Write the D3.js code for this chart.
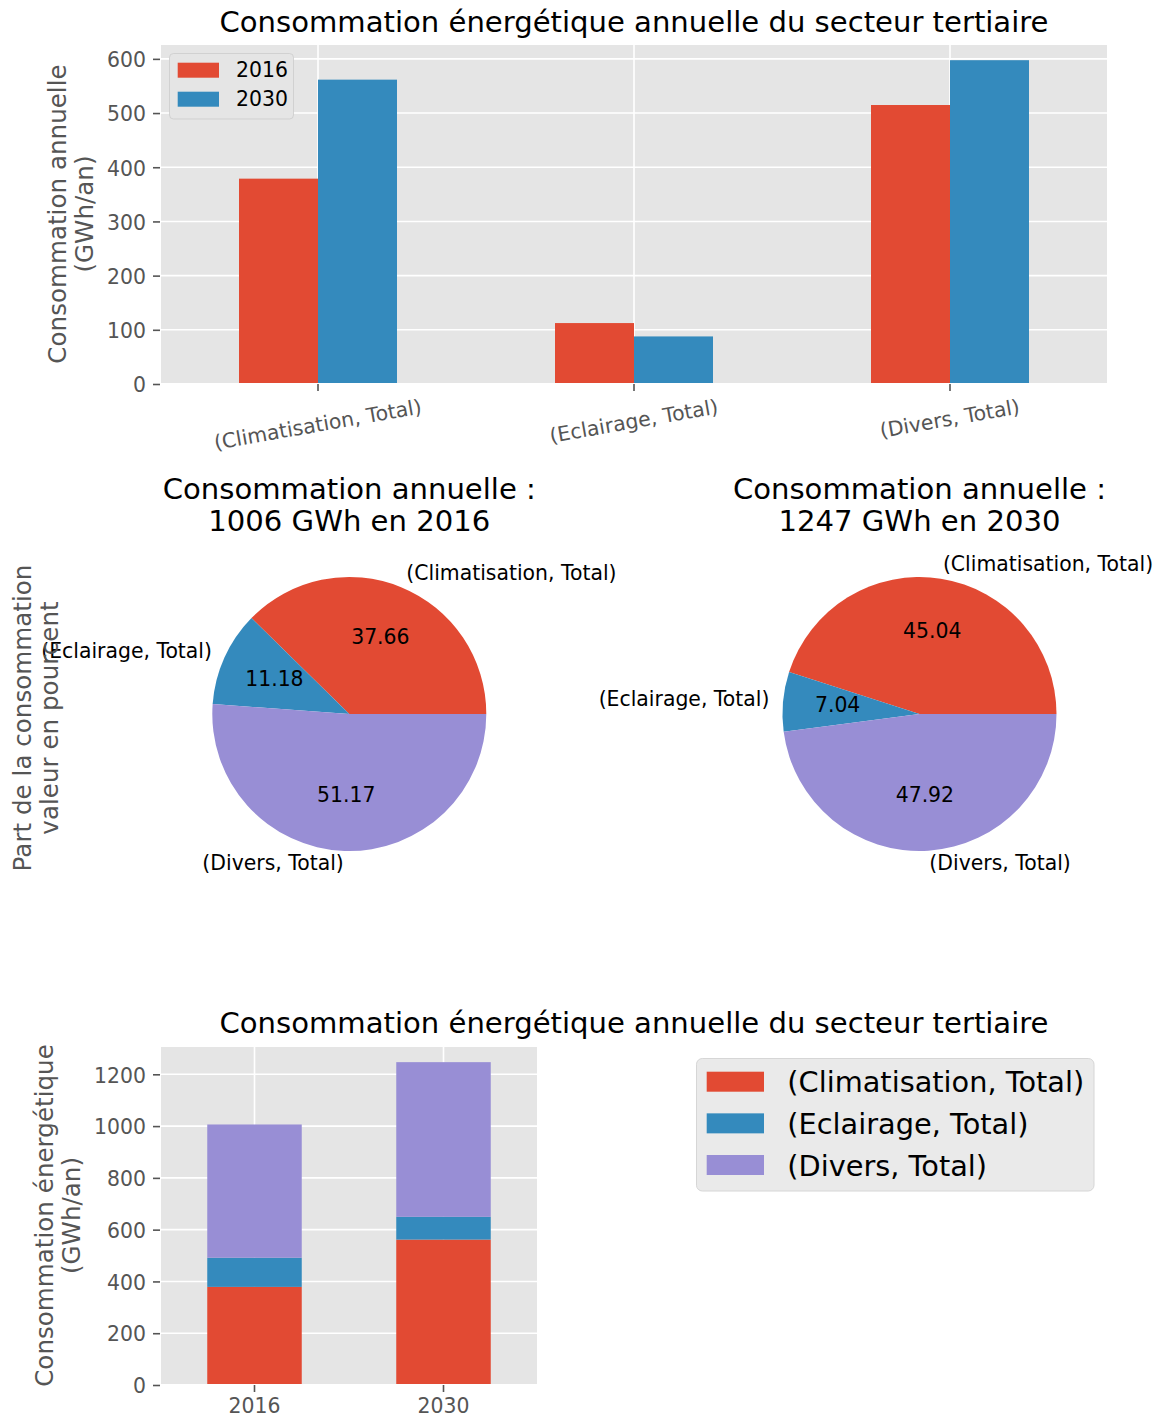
<!DOCTYPE html>
<html>
<head>
<meta charset="utf-8">
<script src="https://cdn.jsdelivr.net/npm/d3@7"></script>
<style>
  body { margin: 0; background: #ffffff; }
  svg { display: block; }
  text { font-family: "DejaVu Sans", sans-serif; }
</style>
</head>
<body>
<svg id="chart" width="1163" height="1418"></svg>
<script>
// ---------------- data ----------------
const categories = ["(Climatisation, Total)", "(Eclairage, Total)", "(Divers, Total)"];
const years = ["2016", "2030"];
const conso2016 = [378.95, 112.45, 514.85];
const conso2030 = [561.65, 87.79, 597.56];
const barTicks = [0, 100, 200, 300, 400, 500, 600];
const stackTicks = [0, 200, 400, 600, 800, 1000, 1200];
const mainTitle = "Consommation énergétique annuelle du secteur tertiaire";
const barYLabel = ["Consommation annuelle", "(GWh/an)"];
const pieYLabel = ["Part de la consommation", "valeur en pourcent"];
const stackYLabel = ["Consommation énergétique", "(GWh/an)"];
const pieTitleStart = "Consommation annuelle :";

// ---------------- style ----------------
const colors = ["#E24A33", "#348ABD", "#988ED5"];
const BG = "#E5E5E5", GREY = "#555555";
const TICK = 20.4, LABEL = 24.6, TITLE = 29.1, LEG = 28.8;
const svg = d3.select("#chart");
svg.append("rect").attr("width", 1163).attr("height", 1418).attr("fill", "#fff");

function styleYAxis(g) {
  g.select(".domain").remove();
  g.selectAll(".tick line").attr("stroke", GREY).attr("stroke-width", 1.6);
  g.selectAll(".tick text").attr("fill", GREY).attr("font-size", TICK)
    .attr("font-family", "DejaVu Sans").attr("dy", "0.38em");
}
function yLabel(x, y, lines, size) {
  const t = svg.append("text").attr("transform", `translate(${x},${y}) rotate(-90)`)
    .attr("text-anchor", "middle").attr("fill", GREY).attr("font-size", size);
  lines.forEach((l, i) => t.append("tspan").attr("x", 0).attr("y", i * 1.1 * size).text(l));
}
function title(x, y, lines) {
  const t = svg.append("text").attr("text-anchor", "middle").attr("fill", "#000").attr("font-size", TITLE);
  lines.forEach((l, i) => t.append("tspan").attr("x", x).attr("y", y + i * 32.4).text(l));
}

// ---------------- top grouped bar chart ----------------
{
  const b = { l: 160, r: 1108, t: 44, b: 384 };
  const x = d3.scaleLinear().domain([-0.5, categories.length - 0.5]).range([b.l, b.r]);
  const y = d3.scaleLinear().domain([0, d3.max(conso2016.concat(conso2030)) * 1.05]).range([b.b, b.t]);
  const g = svg.append("g");
  g.append("rect").attr("x", b.l).attr("y", b.t).attr("width", b.r - b.l).attr("height", b.b - b.t).attr("fill", BG);
  g.selectAll(".gy").data(barTicks).join("line").attr("x1", b.l).attr("x2", b.r)
    .attr("y1", d => y(d)).attr("y2", d => y(d)).attr("stroke", "#fff").attr("stroke-width", 1.6);
  g.selectAll(".gx").data(d3.range(categories.length)).join("line").attr("y1", b.t).attr("y2", b.b)
    .attr("x1", d => x(d)).attr("x2", d => x(d)).attr("stroke", "#fff").attr("stroke-width", 1.6);
  [conso2016, conso2030].forEach((vals, s) => {
    g.append("g").selectAll("rect").data(vals).join("rect")
      .attr("x", (d, i) => x(i - 0.25 + s * 0.25))
      .attr("width", x(0.25) - x(0))
      .attr("y", d => y(d)).attr("height", d => y(0) - y(d))
      .attr("fill", colors[s]);
  });
  g.append("rect").attr("x", b.l).attr("y", b.t).attr("width", b.r - b.l).attr("height", b.b - b.t)
    .attr("fill", "none").attr("stroke", "#fff").attr("stroke-width", 2);
  const ay = svg.append("g").attr("transform", `translate(${b.l},0)`)
    .call(d3.axisLeft(y).tickValues(barTicks).tickSize(7).tickPadding(7).tickFormat(d3.format("d")));
  styleYAxis(ay);
  // x ticks & rotated labels
  const a = 10 * Math.PI / 180;
  categories.forEach((c, i) => {
    svg.append("line").attr("x1", x(i)).attr("x2", x(i)).attr("y1", b.b).attr("y2", b.b + 7)
      .attr("stroke", GREY).attr("stroke-width", 1.6);
    const t = svg.append("text").text(c).attr("font-size", TICK).attr("fill", GREY).attr("text-anchor", "middle");
    const w = t.node().getComputedTextLength();
    const hh = 0.968 * TICK;
    const cy = b.b + 14 + (w * Math.sin(a) + hh * Math.cos(a)) / 2;
    t.attr("transform", `translate(${x(i)},${cy}) rotate(-10)`).attr("y", 0.276 * TICK);
  });
  // legend
  const lg = svg.append("g");
  lg.append("rect").attr("x", 169.5).attr("y", 53.5).attr("width", 124).attr("height", 65.5).attr("rx", 4)
    .attr("fill", BG).attr("stroke", "#CCCCCC").attr("stroke-opacity", 0.8).attr("stroke-width", 1);
  years.forEach((yr, s) => {
    const cy = 70.2 + s * 29;
    lg.append("rect").attr("x", 177.7).attr("y", cy - 7.5).attr("width", 41.3).attr("height", 15).attr("fill", colors[s]);
    lg.append("text").attr("x", 236).attr("y", cy + 6.6).attr("font-size", TICK).attr("fill", "#000").text(yr);
  });
  title((b.l + b.r) / 2, 31.7, [mainTitle]);
  yLabel(66, (b.t + b.b) / 2, barYLabel, LABEL);
}

// ---------------- pies ----------------
function drawPie(cx, cy, vals, year) {
  const r = 137;
  const total = d3.sum(vals);
  const pie = d3.pie().sort(null).value(d => d).startAngle(Math.PI / 2).endAngle(Math.PI / 2 - 2 * Math.PI);
  const arcs = pie(vals);
  const arc = d3.arc().innerRadius(0).outerRadius(r);
  const g = svg.append("g").attr("transform", `translate(${cx},${cy})`);
  g.selectAll("path").data(arcs).join("path").attr("d", arc).attr("fill", (d, i) => colors[i]);
  arcs.forEach((d, i) => {
    const m = (d.startAngle + d.endAngle) / 2;
    const lx = Math.sin(m) * 1.1 * r, ly = -Math.cos(m) * 1.1 * r;
    g.append("text").attr("x", lx).attr("y", ly + 0.276 * TICK)
      .attr("text-anchor", lx > 0 ? "start" : "end").attr("font-size", TICK).attr("fill", "#000")
      .text(categories[i]);
    const px = Math.sin(m) * 0.6 * r, py = -Math.cos(m) * 0.6 * r;
    g.append("text").attr("x", px).attr("y", py + 0.276 * TICK)
      .attr("text-anchor", "middle").attr("font-size", TICK).attr("fill", "#000")
      .text(d3.format(".2f")(d.data / total * 100));
  });
  title(cx, 499, [pieTitleStart, `${Math.round(total)} GWh en ${year}`]);
}
drawPie(349.3, 714, conso2016, years[0]);
drawPie(919.5, 714, conso2030, years[1]);
yLabel(31, 718, pieYLabel, LABEL);

// ---------------- bottom stacked bar chart ----------------
{
  const s = { l: 160, r: 538, t: 1046, b: 1385 };
  const rows = years.map((yr, j) => {
    const o = { year: yr };
    categories.forEach((c, i) => { o[c] = (j === 0 ? conso2016 : conso2030)[i]; });
    return o;
  });
  const stacked = d3.stack().keys(categories)(rows);
  const totals = rows.map(r => d3.sum(categories, c => r[c]));
  const x = d3.scaleLinear().domain([-0.5, years.length - 0.5]).range([s.l, s.r]);
  const y = d3.scaleLinear().domain([0, d3.max(totals) * 1.05]).range([s.b, s.t]);
  const g = svg.append("g");
  g.append("rect").attr("x", s.l).attr("y", s.t).attr("width", s.r - s.l).attr("height", s.b - s.t).attr("fill", BG);
  g.selectAll(".gy").data(stackTicks).join("line").attr("x1", s.l).attr("x2", s.r)
    .attr("y1", d => y(d)).attr("y2", d => y(d)).attr("stroke", "#fff").attr("stroke-width", 1.6);
  g.selectAll(".gx").data(d3.range(years.length)).join("line").attr("y1", s.t).attr("y2", s.b)
    .attr("x1", d => x(d)).attr("x2", d => x(d)).attr("stroke", "#fff").attr("stroke-width", 1.6);
  stacked.forEach((layer, k) => {
    g.append("g").selectAll("rect").data(layer).join("rect")
      .attr("x", (d, j) => x(j - 0.25)).attr("width", x(0.25) - x(-0.25))
      .attr("y", d => y(d[1])).attr("height", d => y(d[0]) - y(d[1]))
      .attr("fill", colors[k]);
  });
  g.append("rect").attr("x", s.l).attr("y", s.t).attr("width", s.r - s.l).attr("height", s.b - s.t)
    .attr("fill", "none").attr("stroke", "#fff").attr("stroke-width", 2);
  const ay = svg.append("g").attr("transform", `translate(${s.l},0)`)
    .call(d3.axisLeft(y).tickValues(stackTicks).tickSize(7).tickPadding(7).tickFormat(d3.format("d")));
  styleYAxis(ay);
  years.forEach((yr, j) => {
    svg.append("line").attr("x1", x(j)).attr("x2", x(j)).attr("y1", s.b).attr("y2", s.b + 7)
      .attr("stroke", GREY).attr("stroke-width", 1.6);
    svg.append("text").attr("x", x(j)).attr("y", 1413).attr("text-anchor", "middle")
      .attr("font-size", TICK).attr("fill", GREY).text(yr);
  });
  title(634, 1033, [mainTitle]);
  yLabel(53.3, (s.t + s.b) / 2, stackYLabel, LABEL);
  // legend
  const lg = svg.append("g");
  lg.append("rect").attr("x", 696.5).attr("y", 1058.5).attr("width", 397.5).attr("height", 132.5).attr("rx", 5.8)
    .attr("fill", "#EAEAEA").attr("stroke", "#D6D6D6").attr("stroke-width", 1);
  categories.forEach((c, k) => {
    const cy = 1081.7 + k * 41.65;
    lg.append("rect").attr("x", 706.7).attr("y", cy - 10).attr("width", 57.3).attr("height", 20).attr("fill", colors[k]);
    lg.append("text").attr("x", 787.3).attr("y", cy + 10.6).attr("font-size", LEG).attr("fill", "#000").text(c);
  });
}
</script>
</body>
</html>
